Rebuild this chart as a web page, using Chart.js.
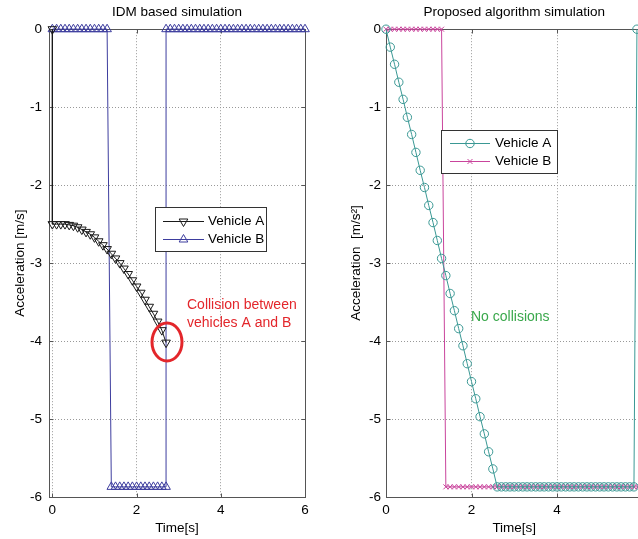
<!DOCTYPE html>
<html>
<head>
<meta charset="utf-8">
<script src="https://cdn.jsdelivr.net/npm/chart.js@4.4.0/dist/chart.umd.min.js"></script>
<style>
  html, body { margin: 0; padding: 0; background: #fff; overflow: hidden; }
  #wrap { position: relative; width: 638px; height: 539px; overflow: hidden; background: #fff; }
  #idmChart { position: absolute; left: 0; top: 0; }
  #propChart { position: absolute; left: 318px; top: 0; }
</style>
</head>
<body>
<div id="wrap">
  <canvas id="idmChart" width="318" height="539"></canvas>
  <canvas id="propChart" width="340" height="539"></canvas>
</div>
<script>
// ======== Data ========
const xTickValues = [0, 2, 4, 6];
const yTickValues = [0, -1, -2, -3, -4, -5, -6];

// IDM based simulation - Vehicle A
const idmTimeA = [0, 0, 0.1, 0.2, 0.3, 0.4, 0.5, 0.6, 0.7, 0.8, 0.9,
  1.0, 1.1, 1.2, 1.3, 1.4, 1.5, 1.6, 1.7, 1.8, 1.9,
  2.0, 2.1, 2.2, 2.3, 2.4, 2.5, 2.6, 2.7];
const idmAccA = [0, -2.5, -2.5, -2.5, -2.5, -2.51, -2.52, -2.54, -2.57, -2.6, -2.63,
  -2.67, -2.72, -2.77, -2.82, -2.88, -2.94, -3.0, -3.07, -3.14, -3.22,
  -3.3, -3.38, -3.47, -3.56, -3.65, -3.75, -3.86, -4.02];

// IDM based simulation - Vehicle B
const idmTimeB = [0, 0.1, 0.2, 0.3, 0.4, 0.5, 0.6, 0.7, 0.8, 0.9, 1.0, 1.1, 1.2, 1.3,
  1.4, 1.5, 1.6, 1.7, 1.8, 1.9, 2.0, 2.1, 2.2, 2.3, 2.4, 2.5, 2.6, 2.7,
  2.7, 2.8, 2.9, 3.0, 3.1, 3.2, 3.3, 3.4, 3.5, 3.6, 3.7, 3.8, 3.9, 4.0, 4.1, 4.2, 4.3,
  4.4, 4.5, 4.6, 4.7, 4.8, 4.9, 5.0, 5.1, 5.2, 5.3, 5.4, 5.5, 5.6, 5.7, 5.8, 5.9, 6.0];
const idmAccB = [0, 0, 0, 0, 0, 0, 0, 0, 0, 0, 0, 0, 0, 0,
  -5.87, -5.87, -5.87, -5.87, -5.87, -5.87, -5.87, -5.87, -5.87, -5.87, -5.87, -5.87, -5.87, -5.87,
  0, 0, 0, 0, 0, 0, 0, 0, 0, 0, 0, 0, 0, 0, 0, 0, 0,
  0, 0, 0, 0, 0, 0, 0, 0, 0, 0, 0, 0, 0, 0, 0, 0, 0];

// Proposed algorithm simulation - Vehicle A
const propTimeA = [0, 0.1, 0.2, 0.3, 0.4, 0.5, 0.6, 0.7, 0.8, 0.9,
  1.0, 1.1, 1.2, 1.3, 1.4, 1.5, 1.6, 1.7, 1.8, 1.9,
  2.0, 2.1, 2.2, 2.3, 2.4, 2.5, 2.6,
  2.7, 2.8, 2.9, 3.0, 3.1, 3.2, 3.3, 3.4, 3.5, 3.6, 3.7, 3.8, 3.9,
  4.0, 4.1, 4.2, 4.3, 4.4, 4.5, 4.6, 4.7, 4.8, 4.9,
  5.0, 5.1, 5.2, 5.3, 5.4, 5.5, 5.6, 5.7, 5.8, 5.87];
const propAccA = [0, -0.23, -0.45, -0.68, -0.9, -1.13, -1.35, -1.58, -1.81, -2.03,
  -2.26, -2.48, -2.71, -2.94, -3.16, -3.39, -3.61, -3.84, -4.06, -4.29,
  -4.52, -4.74, -4.97, -5.19, -5.42, -5.64, -5.87,
  -5.87, -5.87, -5.87, -5.87, -5.87, -5.87, -5.87, -5.87, -5.87, -5.87, -5.87, -5.87, -5.87,
  -5.87, -5.87, -5.87, -5.87, -5.87, -5.87, -5.87, -5.87, -5.87, -5.87,
  -5.87, -5.87, -5.87, -5.87, -5.87, -5.87, -5.87, -5.87, -5.87, 0];

// Proposed algorithm simulation - Vehicle B
const propTimeB = [0, 0.1, 0.2, 0.3, 0.4, 0.5, 0.6, 0.7, 0.8, 0.9, 1.0, 1.1, 1.2, 1.3,
  1.4, 1.5, 1.6, 1.7, 1.8, 1.9,
  2.0, 2.1, 2.2, 2.3, 2.4, 2.5, 2.6, 2.7, 2.8, 2.9,
  3.0, 3.1, 3.2, 3.3, 3.4, 3.5, 3.6, 3.7, 3.8, 3.9,
  4.0, 4.1, 4.2, 4.3, 4.4, 4.5, 4.6, 4.7, 4.8, 4.9,
  5.0, 5.1, 5.2, 5.3, 5.4, 5.5, 5.6, 5.7, 5.8, 5.9, 6.0];
const propAccB = [0, 0, 0, 0, 0, 0, 0, 0, 0, 0, 0, 0, 0, 0,
  -5.87, -5.87, -5.87, -5.87, -5.87, -5.87,
  -5.87, -5.87, -5.87, -5.87, -5.87, -5.87, -5.87, -5.87, -5.87, -5.87,
  -5.87, -5.87, -5.87, -5.87, -5.87, -5.87, -5.87, -5.87, -5.87, -5.87,
  -5.87, -5.87, -5.87, -5.87, -5.87, -5.87, -5.87, -5.87, -5.87, -5.87,
  -5.87, -5.87, -5.87, -5.87, -5.87, -5.87, -5.87, -5.87, -5.87, -5.87, -5.87];

// ======== Helpers ========
const FONT = "'Liberation Sans', Arial, Helvetica, sans-serif";
Chart.defaults.font.family = FONT;
Chart.defaults.font.size = 13.5;
Chart.defaults.color = "#000";

const toPoints = (xs, ys) => xs.map((x, i) => ({ x: x, y: ys[i] }));

function makeDataset(label, xs, ys, color, pointStyle, radius, rotation) {
  return {
    label: label,
    data: toPoints(xs, ys),
    borderColor: color,
    borderWidth: 1,
    backgroundColor: "rgba(0,0,0,0)",
    pointStyle: pointStyle,
    pointRadius: radius,
    pointRotation: rotation || 0,
    pointBorderColor: color,
    pointBorderWidth: 1,
    pointBackgroundColor: "rgba(0,0,0,0)",
    tension: 0,
    clip: false,
  };
}

// MATLAB-like frame with inward tick marks
const axesBox = {
  id: "axesBox",
  beforeDatasetsDraw(chart) {
    const { ctx, chartArea: a, scales } = chart;
    const L = Math.round(a.left) + 0.5, T = Math.round(a.top) + 0.5;
    const R = Math.round(a.right) + 0.5, B = Math.round(a.bottom) + 0.5;
    ctx.save();
    ctx.strokeStyle = "#555";
    ctx.lineWidth = 1;
    ctx.strokeRect(L, T, R - L, B - T);
    ctx.beginPath();
    scales.x.ticks.forEach((t) => {
      const px = Math.round(scales.x.getPixelForValue(t.value)) + 0.5;
      ctx.moveTo(px, B); ctx.lineTo(px, B - 4);
      ctx.moveTo(px, T); ctx.lineTo(px, T + 4);
    });
    scales.y.ticks.forEach((t) => {
      const py = Math.round(scales.y.getPixelForValue(t.value)) + 0.5;
      ctx.moveTo(L, py); ctx.lineTo(L + 4, py);
      ctx.moveTo(R, py); ctx.lineTo(R - 4, py);
    });
    ctx.stroke();
    ctx.restore();
  },
};

// Legend box drawn inside the plot
const boxLegend = {
  id: "boxLegend",
  afterDatasetsDraw(chart, args, opts) {
    if (!opts || !opts.rows) return;
    const { ctx } = chart;
    ctx.save();
    ctx.fillStyle = "#fff";
    ctx.fillRect(opts.x, opts.y, opts.w, opts.h);
    ctx.strokeStyle = "#333";
    ctx.lineWidth = 1;
    ctx.strokeRect(opts.x + 0.5, opts.y + 0.5, opts.w, opts.h);
    chart.data.datasets.forEach((ds, i) => {
      const rowY = opts.rows[i];
      ctx.strokeStyle = ds.borderColor;
      ctx.lineWidth = 1;
      ctx.beginPath();
      ctx.moveTo(opts.lineX0, rowY + 0.5);
      ctx.lineTo(opts.lineX1, rowY + 0.5);
      ctx.stroke();
      ctx.fillStyle = "rgba(0,0,0,0)";
      Chart.helpers.drawPoint(ctx, {
        pointStyle: ds.pointStyle,
        radius: ds.pointRadius,
        rotation: ds.pointRotation,
        borderWidth: 1,
      }, (opts.lineX0 + opts.lineX1) / 2, rowY + 0.5);
      ctx.fillStyle = "#000";
      ctx.textBaseline = "middle";
      ctx.textAlign = "left";
      ctx.font = "13.5px " + FONT;
      ctx.fillText(ds.label, opts.textX, rowY);
    });
    ctx.restore();
  },
};

// Free text / ellipse notes
const notes = {
  id: "notes",
  afterDraw(chart, args, opts) {
    const { ctx } = chart;
    ctx.save();
    (opts.ellipses || []).forEach((e) => {
      ctx.strokeStyle = e.color;
      ctx.lineWidth = 3;
      ctx.beginPath();
      ctx.ellipse(e.x, e.y, e.rx, e.ry, 0, 0, Math.PI * 2);
      ctx.stroke();
    });
    (opts.texts || []).forEach((t) => {
      ctx.fillStyle = t.color;
      ctx.font = "14px " + FONT;
      ctx.textBaseline = "middle";
      ctx.textAlign = "left";
      ctx.fillText(t.text, t.x, t.y);
    });
    ctx.restore();
  },
};

function makeScales(xMin, yTitle, yWidth, yTickPad, yTitlePad) {
  return {
    x: {
      type: "linear",
      min: xMin,
      max: 6,
      afterBuildTicks: (s) => { s.ticks = xTickValues.map((v) => ({ value: v })); },
      afterFit: (s) => { s.height = 42; },
      grid: { color: "#999", lineWidth: 1, drawTicks: false },
      border: { display: false, dash: [1, 2] },
      ticks: { padding: 5, color: "#000" },
      title: { display: true, text: "Time[s]", color: "#000", padding: { top: 0, bottom: 3 } },
    },
    y: {
      type: "linear",
      min: -6,
      max: 0,
      afterBuildTicks: (s) => { s.ticks = yTickValues.map((v) => ({ value: v })); },
      afterFit: (s) => { s.width = yWidth; },
      grid: { color: "#999", lineWidth: 1, drawTicks: false },
      border: { display: false, dash: [1, 2] },
      ticks: { padding: yTickPad, color: "#000" },
      title: { display: true, text: yTitle, color: "#000", padding: { top: yTitlePad, bottom: 0 } },
    },
  };
}

function baseOptions(title, scales, rightPad) {
  return {
    responsive: false,
    animation: false,
    events: [],
    layout: { padding: { top: 4, right: rightPad, bottom: 0, left: 0 } },
    scales: scales,
    plugins: {
      legend: { display: false },
      tooltip: { enabled: false },
      title: {
        display: true,
        text: title,
        fullSize: false,
        color: "#000",
        font: { size: 13.5, weight: "normal" },
        padding: { top: 0, bottom: 9 },
      },
    },
  };
}

// ======== IDM based simulation ========
const idmOptions = baseOptions("IDM based simulation",
  makeScales(-0.08, "Acceleration [m/s]", 49, 7, 12), 13);
idmOptions.plugins.boxLegend = {
  x: 155, y: 207, w: 111, h: 44,
  rows: [221, 239],
  lineX0: 163, lineX1: 204, textX: 208,
};
idmOptions.plugins.notes = {
  ellipses: [{ x: 167, y: 342, rx: 15, ry: 19, color: "#e3262b" }],
  texts: [
    { text: "Collision between", x: 187, y: 305, color: "#e3262b" },
    { text: "vehicles A and B", x: 187, y: 323, color: "#e3262b" },
  ],
};

new Chart(document.getElementById("idmChart").getContext("2d"), {
  type: "line",
  data: {
    datasets: [
      makeDataset("Vehicle A", idmTimeA, idmAccA, "#1a1a1a", "triangle", 5, 180),
      makeDataset("Vehicle B", idmTimeB, idmAccB, "#3d3d9e", "triangle", 5, 0),
    ],
  },
  options: idmOptions,
  plugins: [axesBox, boxLegend, notes],
});

// ======== Proposed algorithm simulation ========
const propOptions = baseOptions("Proposed algorithm simulation",
  makeScales(0, "Acceleration  [m/s²]", 68, 5, 30), 15.5);
propOptions.plugins.boxLegend = {
  x: 123, y: 130, w: 116, h: 43,
  rows: [143, 161],
  lineX0: 132, lineX1: 172, textX: 177,
};
propOptions.plugins.notes = {
  texts: [{ text: "No collisions", x: 153, y: 317, color: "#3aa84c" }],
};

new Chart(document.getElementById("propChart").getContext("2d"), {
  type: "line",
  data: {
    datasets: [
      makeDataset("Vehicle A", propTimeA, propAccA, "#3a9894", "circle", 4.2, 0),
      makeDataset("Vehicle B", propTimeB, propAccB, "#c9449c", "crossRot", 3.5, 0),
    ],
  },
  options: propOptions,
  plugins: [axesBox, boxLegend, notes],
});
</script>
</body>
</html>
